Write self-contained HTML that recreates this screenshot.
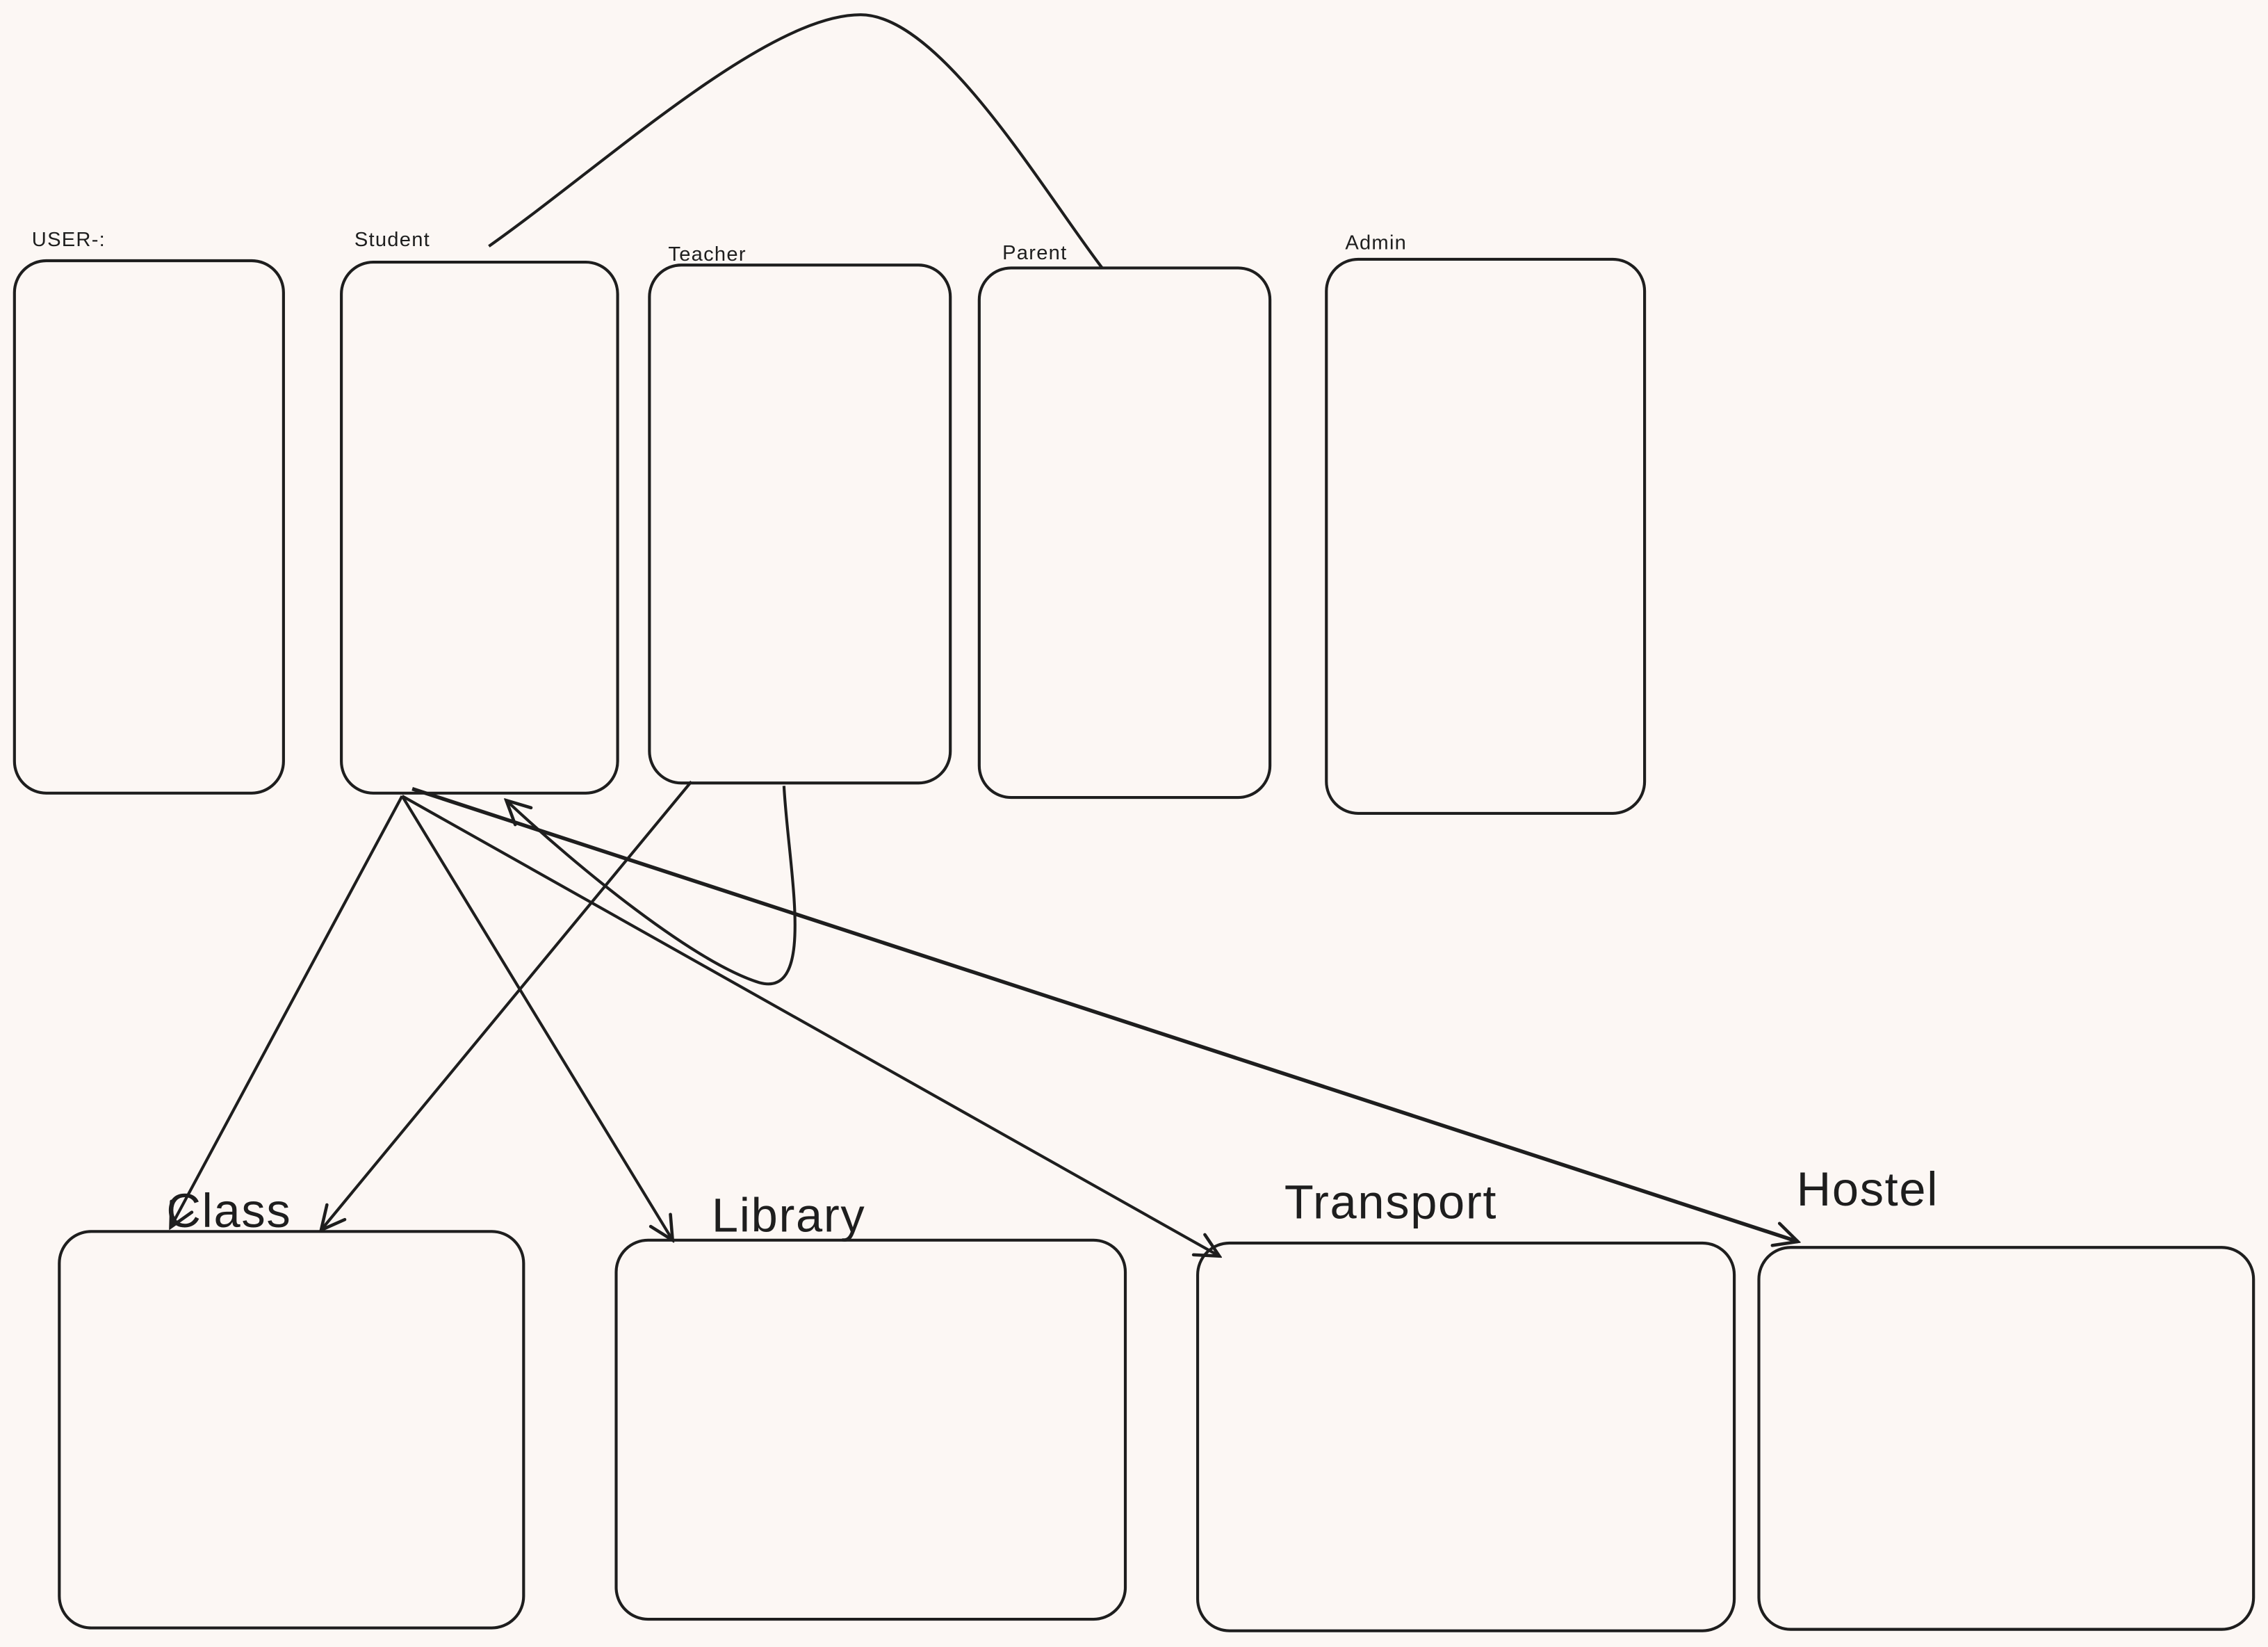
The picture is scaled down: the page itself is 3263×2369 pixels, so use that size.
<!DOCTYPE html>
<html><head><meta charset="utf-8"><style>
html,body{margin:0;padding:0;background:#fcf7f4;}
svg{display:block;}
text{font-family:"Liberation Sans",sans-serif;fill:#1e1e1e;}
.s{font-size:14px;letter-spacing:0.6px;}
.b{font-size:33px;letter-spacing:0.8px;}
</style></head><body>
<svg width="3263" height="2369" viewBox="0 0 1568 1138" xmlns="http://www.w3.org/2000/svg">
<defs>
<marker id="a" viewBox="0 0 20 20" refX="18" refY="10" markerWidth="20" markerHeight="20" markerUnits="userSpaceOnUse" orient="auto">
<path d="M2,2 L18,10 L2,18" fill="none" stroke="#1e1e1e" stroke-width="2.2" stroke-linecap="round"/>
</marker>
</defs>
<rect width="1568" height="1138" fill="#fcf7f4"/>
<g fill="none" stroke="#1e1e1e" stroke-width="2">
<rect x="10" y="180" width="186" height="368" rx="22"/>
<rect x="236" y="181" width="191" height="367" rx="22"/>
<rect x="449" y="183" width="208" height="358" rx="22"/>
<rect x="677" y="185" width="201" height="366" rx="22"/>
<rect x="917" y="179" width="220" height="383" rx="22"/>
<rect x="41" y="851" width="321" height="274" rx="22"/>
<rect x="426" y="857" width="352" height="262" rx="22"/>
<rect x="828" y="859" width="371" height="268" rx="22"/>
<rect x="1216" y="862" width="342" height="264" rx="22"/>
<path d="M338,170 C420,112 530,10 595,10 C650,10 720,130 762,185"/>
<path d="M278,550 L118,848" marker-end="url(#a)"/>
<path d="M278,550 L465,857" marker-end="url(#a)"/>
<path d="M278,550 L843,868" marker-end="url(#a)"/>
<path d="M285,545 L1243,858" stroke-width="2.6" marker-end="url(#a)"/>
<path d="M478,540 L222,850" marker-end="url(#a)"/>
<path d="M542,543 C545,600 565,690 525,679 C480,665 400,600 350,553" marker-end="url(#a)"/>
</g>
<text class="s" x="22" y="170">USER-:</text>
<text class="s" x="245" y="170">Student</text>
<text class="s" x="462" y="180">Teacher</text>
<text class="s" x="693" y="179">Parent</text>
<text class="s" x="930" y="172">Admin</text>
<text class="b" x="115" y="848">Class</text>
<text class="b" x="492" y="851">Library</text>
<text class="b" x="888" y="842">Transport</text>
<text class="b" x="1242" y="833">Hostel</text>
</svg>
</body></html>
